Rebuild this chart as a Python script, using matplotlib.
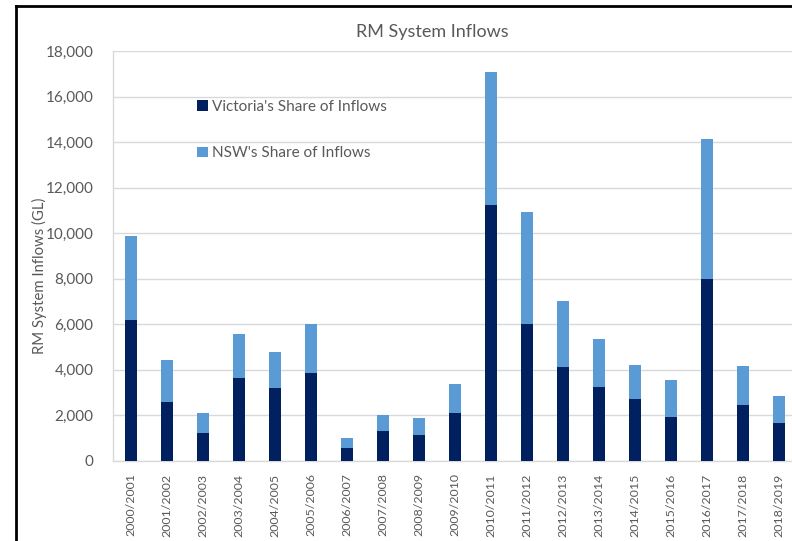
import matplotlib.pyplot as plt
import numpy as np
from matplotlib.lines import Line2D

# water years and inflow shares (GL)
years = ['2000/2001', '2001/2002', '2002/2003', '2003/2004', '2004/2005',
         '2005/2006', '2006/2007', '2007/2008', '2008/2009', '2009/2010',
         '2010/2011', '2011/2012', '2012/2013', '2013/2014', '2014/2015',
         '2015/2016', '2016/2017', '2017/2018', '2018/2019']
victoria = [6210, 2590, 1215, 3645, 3205, 3850, 585, 1320, 1155, 2120,
            11230, 6020, 4110, 3250, 2720, 1935, 8010, 2460, 1685]
total = [9880, 4420, 2095, 5560, 4800, 6015, 1025, 2035, 1875, 3365,
         17060, 10910, 7010, 5355, 4215, 3555, 14140, 4155, 2865]
nsw = [t - v for t, v in zip(total, victoria)]

vic_color = '#002060'
nsw_color = '#5b9bd5'
text_color = '#595959'
grid_color = '#d9d9d9'

plt.rcParams['font.family'] = ['Lato', 'DejaVu Sans']

fig = plt.figure(figsize=(7.92, 5.41), dpi=100)
ax = fig.add_axes([113 / 792, 1 - 461 / 541, 684 / 792, 410 / 541])

x = np.arange(len(years))
ax.bar(x, victoria, width=0.32, color=vic_color, label="Victoria's Share of Inflows", zorder=3)
ax.bar(x, nsw, width=0.32, bottom=victoria, color=nsw_color, label="NSW's Share of Inflows", zorder=3)

ax.set_xlim(-0.5, len(years) - 0.5)
ax.set_ylim(0, 18000)
ax.set_yticks(np.arange(0, 18001, 2000))
ax.yaxis.set_major_formatter(plt.FuncFormatter(lambda v, p: f'{int(v):,}'))
ax.set_xticks(x)
ax.set_xticklabels(years, rotation=90)

ax.grid(axis='y', color=grid_color, linewidth=1, zorder=0)
for side in ['top', 'right']:
    ax.spines[side].set_visible(False)
for side in ['left', 'bottom']:
    ax.spines[side].set_color(grid_color)
    ax.spines[side].set_linewidth(1)
ax.tick_params(axis='both', length=0, colors=text_color, labelsize=11)
ax.tick_params(axis='x', labelsize=8.9, pad=9)
ax.tick_params(axis='y', pad=14)

ax.set_ylabel('RM System Inflows (GL)', color=text_color, fontsize=10.7)
ax.yaxis.set_label_coords((47 - 113) / 684, (461 - 276) / 410)
fig.text(432 / 792, 1 - 32 / 541, 'RM System Inflows', ha='center', va='center',
         fontsize=13, color=text_color)

leg = ax.legend(loc='upper left', bbox_to_anchor=(0.103, 0.915), frameon=False,
                fontsize=11, labelspacing=2.15, handlelength=0.7, handleheight=0.7,
                handletextpad=0.3, labelcolor=text_color)

# outer border of the chart area
fig.add_artist(Line2D([16 / 792, 16 / 792], [0, 1 - 6 / 541], color='black', linewidth=2,
                      transform=fig.transFigure))
fig.add_artist(Line2D([16 / 792, 1], [1 - 6 / 541, 1 - 6 / 541], color='black', linewidth=2,
                      transform=fig.transFigure))

plt.savefig('out.png', dpi=100)
